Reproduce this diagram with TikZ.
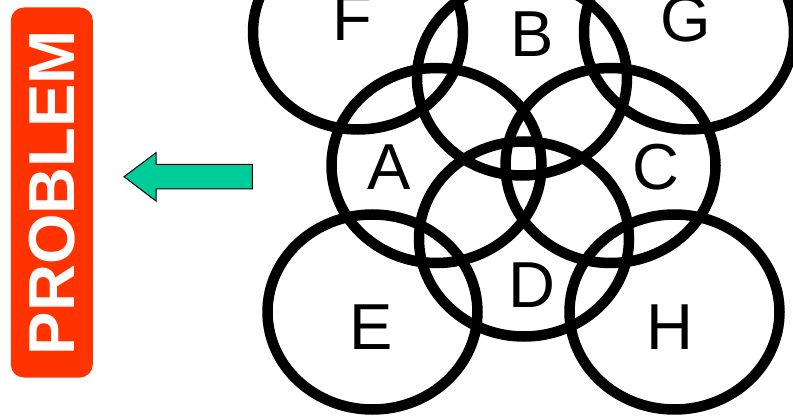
\documentclass[tikz,border=0pt]{standalone}
\usepackage{fontspec}
\setmainfont{Liberation Sans}
\usepackage{xcolor}
\usetikzlibrary{shapes.geometric}
\definecolor{probred}{HTML}{FF3300}
\definecolor{arrowgreen}{HTML}{00CC99}

\begin{document}
\begin{tikzpicture}[
    x=1pt, y=-1pt,
    setc/.style={ellipse, draw=black, line width=10.5pt, minimum width=210pt, minimum height=195pt, inner sep=0pt},
    lbl/.style={font=\fontsize{65}{78}\selectfont, inner sep=0pt},
    probbox/.style={rectangle, rounded corners=13pt, fill=probred, text=white, rotate=90, minimum width=370pt, minimum height=82pt, inner sep=0pt, font=\fontsize{65}{78}\selectfont\bfseries},
    blockarr/.style={draw=black, line width=1pt, fill=arrowgreen, line join=miter}
]
    \useasboundingbox (0,0) rectangle (793,417);
    \clip (0,0) rectangle (793,417);

    % Problem label
    \node (prob) [probbox] at (51.8,192.5) {PROBLEM};

    % Block arrow
    \draw [blockarr] (124,176.7) -- (156,152.7) -- (156,164.3) -- (252.3,164.3)
        -- (252.3,189) -- (156,189) -- (156,201) -- cycle;

    % Sets
    \node (cF) [setc] at (358,32) {};
    \node (cB) [setc] at (522,78) {};
    \node (cG) [setc] at (689,32) {};
    \node (cA) [setc] at (436.5,165.5) {};
    \node (cC) [setc] at (610.5,165.5) {};
    \node (cD) [setc] at (524,239) {};
    \node (cE) [setc] at (372.5,312) {};
    \node (cH) [setc] at (674.5,312) {};

    % Letters
    \node (lF) [lbl] at (352.5,18) {F};
    \node (lB) [lbl] at (532,34) {B};
    \node (lG) [lbl] at (686,19) {G};
    \node (lA) [lbl] at (389,167) {A};
    \node (lC) [lbl] at (656,167) {C};
    \node (lD) [lbl] at (532,285) {D};
    \node (lE) [lbl] at (371,327) {E};
    \node (lH) [lbl] at (670,327) {H};
\end{tikzpicture}
\end{document}
